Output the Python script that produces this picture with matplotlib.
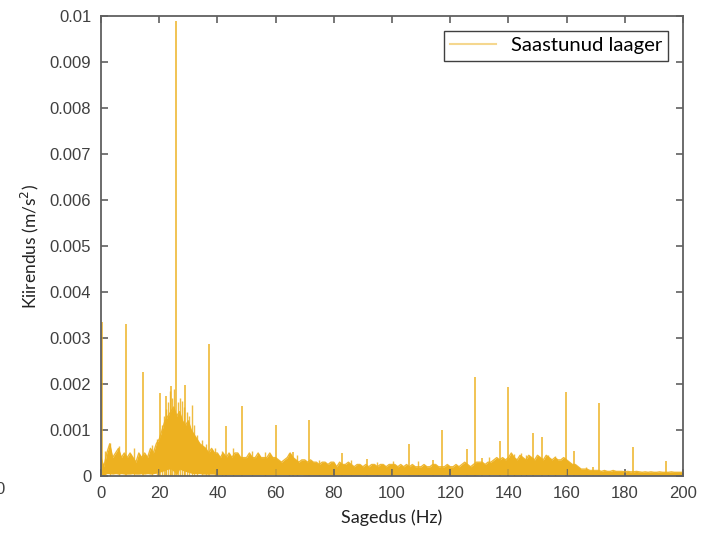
import numpy as np
import matplotlib
matplotlib.use("Agg")
import matplotlib.pyplot as plt

# Noise band, read per 1 Hz (units 1e-4 m/s^2): upper edge and lower edge
band_top = [4, 2, 5, 7, 4, 5, 6, 4, 5, 4,
            5, 4, 3, 5, 4, 5, 4, 6, 5, 7,
            8, 10, 12, 13, 14, 15, 13, 14, 12, 11,
            12, 10, 9, 8, 7, 6.5, 6, 5, 6, 5,
            5, 4, 5, 4, 5, 4, 5, 5, 4, 4,
            4, 5, 4, 4, 5, 4, 4, 4, 5, 4,
            4, 3.5, 3, 3.5, 4, 5, 4, 3.5, 3, 3.5,
            3.5, 3, 3.5, 3, 3, 2.5, 3, 3, 2.5, 3,
            3, 2, 3, 2.5, 2.5, 3, 2.5, 2, 2.5, 2.5,
            2, 2.5, 2, 2.5, 2.5, 2, 2.5, 2.5, 2, 2.5,
            2.5, 2.5, 2, 2.5, 2, 2.5, 2, 2.5, 2, 2,
            2, 2.5, 2, 2, 2.5, 2.5, 2, 2, 2, 2.5,
            2, 2, 2.5, 2, 2.5, 3, 2.5, 2, 2.5, 3,
            3, 3, 2.5, 3, 3, 3.5, 4, 3.5, 4, 3.5,
            4, 5, 4, 3.5, 4.5, 4, 3.5, 4.5, 4, 3.5,
            4.5, 4, 3.5, 4.5, 4, 3.5, 4, 3.5, 3.5, 4,
            3.5, 3, 2.5, 2.5, 2, 1.5, 1.5, 1.5, 1.2, 1.2,
            1.2, 1.2, 1.0, 1.2, 1.0, 1.0, 1.2, 1.0, 1.0, 1.0,
            0.9, 1.0, 0.9, 0.9, 1.0, 0.9, 0.8, 0.9, 0.8, 0.9,
            0.8, 0.8, 0.9, 0.8, 0.8, 0.8, 0.9, 0.8, 0.8, 0.8,
            0.8]
band_low = [0.4, 0.2, 0.5, 0.5, 0.4, 0.5, 0.4, 0.5, 0.4, 0.4,
            0.4, 0.5, 0.4, 0.4, 0.5, 0.4, 0.5, 0.4, 0.5, 0.6,
            0.8, 1.0, 1.2, 1.5, 1.5, 1.0, 0.2, 1.5, 1.2, 1.0,
            0.8, 0.6, 0.5, 0.5, 0.5, 0.4, 0.4, 0.4, 0.4, 0.4,
            0.3, 0.3, 0.3, 0.3, 0.3, 0.3, 0.3, 0.3, 0.3, 0.3,
            0.3, 0.3, 0.3, 0.3, 0.3, 0.3, 0.3, 0.3, 0.3, 0.3,
            0.3, 0.3, 0.3, 0.3, 0.3, 0.3, 0.3, 0.3, 0.3, 0.3,
            0.2, 0.2, 0.2, 0.2, 0.2, 0.2, 0.2, 0.2, 0.2, 0.2,
            0.2, 0.2, 0.2, 0.2, 0.2, 0.2, 0.2, 0.2, 0.2, 0.2,
            0.2, 0.2, 0.2, 0.2, 0.2, 0.2, 0.2, 0.2, 0.2, 0.2,
            0.2, 0.2, 0.2, 0.2, 0.2, 0.2, 0.2, 0.2, 0.2, 0.2,
            0.2, 0.2, 0.2, 0.2, 0.2, 0.2, 0.2, 0.2, 0.2, 0.2,
            0.2, 0.2, 0.2, 0.2, 0.2, 0.2, 0.2, 0.2, 0.2, 0.2,
            0.3, 0.3, 0.3, 0.3, 0.3, 0.3, 0.3, 0.3, 0.3, 0.3,
            0.3, 0.3, 0.3, 0.3, 0.3, 0.3, 0.3, 0.3, 0.3, 0.3,
            0.3, 0.3, 0.3, 0.3, 0.3, 0.3, 0.3, 0.3, 0.3, 0.3,
            0.2, 0.2, 0.2, 0.2, 0.15, 0.15, 0.15, 0.15, 0.15, 0.15,
            0.15, 0.15, 0.15, 0.15, 0.15, 0.15, 0.15, 0.15, 0.15, 0.15,
            0.1, 0.1, 0.1, 0.1, 0.1, 0.1, 0.1, 0.1, 0.1, 0.1,
            0.1, 0.1, 0.1, 0.1, 0.1, 0.1, 0.1, 0.1, 0.1, 0.1,
            0.1]

# Discrete spectral peaks (Hz, m/s^2)
peak_freq = [0.3, 8.6, 14.5, 20.2, 22.5, 24.0, 25.8, 29.0, 37.2, 43.0,
             48.6, 60.2, 66.0, 71.6, 82.9, 91.5, 105.7, 114.2, 117.2, 125.7,
             128.5, 130.8, 137.0, 139.9, 148.6, 151.4, 159.9, 162.6, 169.0,
             171.2, 182.7, 194.0]
peak_amp = [0.00335, 0.0033, 0.00227, 0.00181, 0.00175, 0.00195, 0.0099,
            0.00198, 0.00286, 0.00109, 0.00153, 0.00111, 0.00053, 0.00122,
            0.0005, 0.00038, 0.0007, 0.00035, 0.001, 0.00059, 0.00215,
            0.0004, 0.00076, 0.00194, 0.00094, 0.00084, 0.00183, 0.00054,
            0.0002, 0.00158, 0.00064, 0.00033]

# Smaller noise spikes riding on the band (Hz, m/s^2)
burst_freq = [1.5, 3.0, 6.2, 11.3, 17.6, 19.2, 21.0, 21.6, 22.3, 23.1,
              23.7, 24.4, 25.0, 26.5, 27.2, 27.8, 28.4, 29.6, 30.3, 31.2,
              32.0, 33.0, 34.7, 36.0, 39.2, 41.5, 45.3, 52.0, 56.5, 64.5,
              67.2, 75.0, 86.0, 94.8, 100.5, 109.0, 133.5, 142.0, 144.5,
              146.2, 153.5, 156.0, 166.5]
burst_amp = [0.00055, 0.00072, 0.00066, 0.0006, 0.00068, 0.0008, 0.0011,
             0.0013, 0.00145, 0.0016, 0.00185, 0.0017, 0.0019, 0.0016,
             0.0017, 0.00164, 0.0015, 0.0014, 0.0013, 0.00154, 0.0011,
             0.0009, 0.00078, 0.0007, 0.0006, 0.00055, 0.0006, 0.00055,
             0.00052, 0.0005, 0.00045, 0.00035, 0.00035, 0.0003, 0.00032,
             0.00033, 0.00042, 0.00048, 0.0005, 0.00046, 0.00045, 0.00044,
             0.0002]

x_ticks = [0, 20, 40, 60, 80, 100, 120, 140, 160, 180, 200]
y_ticks = [0, 0.001, 0.002, 0.003, 0.004, 0.005, 0.006, 0.007, 0.008, 0.009, 0.01]
y_tick_labels = ["0", "0.001", "0.002", "0.003", "0.004", "0.005",
                 "0.006", "0.007", "0.008", "0.009", "0.01"]

line_color = "#EDB120"

fig = plt.figure(figsize=(7.12, 5.39), dpi=100)
ax = fig.add_axes([101 / 712, 1 - 476 / 539, 582 / 712, 460 / 539])

freq = np.arange(len(band_top), dtype=float)
top = np.array(band_top) * 1e-4
low = np.array(band_low) * 1e-4

ax.fill_between(freq, low, top, color=line_color, alpha=1.0, lw=0)
ax.plot(freq, top, color=line_color, lw=1.0, alpha=0.9, label="Saastunud laager")
ax.vlines(burst_freq, 0, burst_amp, color=line_color, lw=1.0, alpha=0.85)
ax.vlines(peak_freq, 0, peak_amp, color=line_color, lw=1.2, alpha=0.9)

ax.set_xlim(0, 200)
ax.set_ylim(0, 0.01)
ax.set_xticks(x_ticks)
ax.set_xticklabels([str(v) for v in x_ticks])
ax.set_yticks(y_ticks)
ax.set_yticklabels(y_tick_labels)

tick_color = "#404040"
spine_color = "#606060"
for s in ax.spines.values():
    s.set_color(spine_color)
    s.set_linewidth(1.3)
    s.set_zorder(5)
ax.tick_params(axis="both", which="both", direction="in", length=5, width=1.2,
               color=spine_color, top=True, right=True, labelsize=12,
               labelcolor=tick_color, pad=7)
for lab in ax.get_xticklabels() + ax.get_yticklabels():
    lab.set_family("Liberation Sans")

ax.set_xlabel("Sagedus (Hz)", fontsize=13, family="Lato", color="#222222", labelpad=6)
ax.set_ylabel("Kiirendus (m/s$^2$)", fontsize=12.5, family="Lato", color="#222222", labelpad=6)

leg = ax.legend(loc="upper right", bbox_to_anchor=(0.974, 0.967), borderaxespad=0,
                fancybox=False, framealpha=1, edgecolor="#404040",
                prop={"family": "Lato", "size": 14.6},
                handlelength=2.3, borderpad=0.3, handletextpad=0.7)
leg.get_frame().set_linewidth(1.0)
for h in leg.get_lines():
    h.set_alpha(0.5)
    h.set_linewidth(1.5)

fig.text(-0.006, 1 - 490 / 539, "0", fontsize=12, family="Liberation Sans",
         color=tick_color, va="center", ha="left")

fig.savefig("out.png", dpi=100)
